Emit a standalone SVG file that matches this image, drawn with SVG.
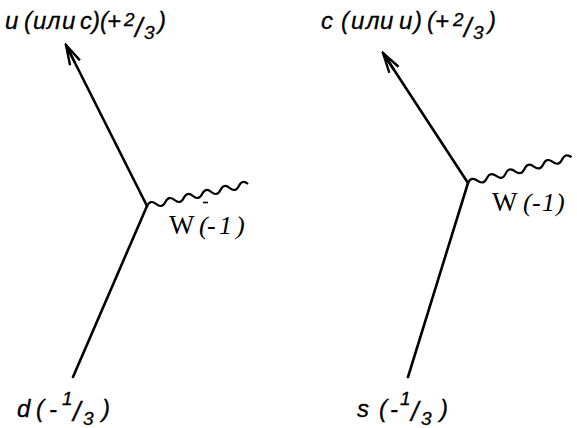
<svg xmlns="http://www.w3.org/2000/svg" width="577" height="428" viewBox="0 0 577 428">
<style>
.ln{stroke:#000;stroke-width:2.6;fill:none;stroke-linecap:round}
.wv{stroke:#000;stroke-width:2.2;fill:none}
.lb{font-family:"Liberation Sans",Arial,sans-serif;font-style:italic;font-size:24px;fill:#000;stroke:#000;stroke-width:0.3}
.sm{font-family:"Liberation Sans",Arial,sans-serif;font-style:italic;font-size:19px;fill:#000;stroke:#000;stroke-width:0.3}
.sl{font-family:"Liberation Sans",Arial,sans-serif;font-style:italic;font-size:27px;fill:#000;stroke:#000;stroke-width:0.3}
.wl{font-family:"Liberation Serif","Times New Roman",serif;font-size:27px;fill:#000}
.wi{font-family:"Liberation Serif","Times New Roman",serif;font-style:italic;font-size:26px;fill:#000}
</style>
<defs>
<marker id="ah" viewBox="-22 -7 24 14" markerWidth="24" markerHeight="14" refX="0" refY="0" orient="auto" markerUnits="userSpaceOnUse">
<path d="M-20,-5.5 L0,0 L-20,5.5 M-20,0 L0,0" stroke="#000" stroke-width="2.4" fill="none" stroke-linejoin="miter"/>
</marker>
</defs>
<g id="connectors">
<line class="ln" x1="73" y1="377" x2="147" y2="206"/>
<line class="ln" x1="147" y1="206" x2="66" y2="45" marker-end="url(#ah)"/>
<path class="wv" transform="translate(147,206) rotate(-12.3)" d="M0 0 q4.7 -6 9.4 0 t9.4 0 t9.4 0 t9.4 0 t9.4 0 t9.4 0 t9.4 0 t9.4 0 t9.4 0 t9.4 0 t9.4 0"/>
<line class="ln" x1="408" y1="377" x2="468" y2="183"/>
<line class="ln" x1="468" y1="183" x2="383" y2="53" marker-end="url(#ah)"/>
<path class="wv" transform="translate(468,183) rotate(-14)" d="M0 0 q4.85 -6 9.7 0 t9.7 0 t9.7 0 t9.7 0 t9.7 0 t9.7 0 t9.7 0 t9.7 0 t9.7 0 t9.7 0 t9.7 0"/>
</g>
<g id="label-u">
<text class="lb" x="5 24 33 47 62 80 92 100 107" y="29">u(илиc)(+</text>
<text class="sm" x="124" y="26">2</text>
<text class="sl" x="135" y="37">/</text>
<text class="sm" x="144" y="39">3</text>
<text class="lb" x="158" y="29">)</text>
</g>
<g id="label-c">
<text class="lb" x="321 341 351 366 380 399 414 427 435" y="29">c(илиu)(+</text>
<text class="sm" x="453" y="26">2</text>
<text class="sl" x="464" y="37">/</text>
<text class="sm" x="473" y="39">3</text>
<text class="lb" x="488" y="29">)</text>
</g>
<g id="label-W1">
<text class="wl" x="169" y="234">W</text>
<text class="wi" x="199 207 219 236" y="234">(-1)</text>
<line x1="203" y1="202.5" x2="208" y2="202.5" stroke="#000" stroke-width="1.6"/>
</g>
<g id="label-W2">
<text class="wl" x="492" y="211">W</text>
<text class="wi" x="523 532 542 556" y="211">(-1)</text>
</g>
<g id="label-d">
<text class="lb" x="17 36 49" y="417">d(-</text>
<text class="sm" x="62" y="405">1</text>
<text class="sl" x="73" y="421">/</text>
<text class="sm" x="83" y="425">3</text>
<text class="lb" x="102" y="417">)</text>
</g>
<g id="label-s">
<text class="lb" x="357 379 390" y="417">s(-</text>
<text class="sm" x="400" y="405">1</text>
<text class="sl" x="411" y="421">/</text>
<text class="sm" x="421" y="425">3</text>
<text class="lb" x="440" y="417">)</text>
</g>
</svg>
